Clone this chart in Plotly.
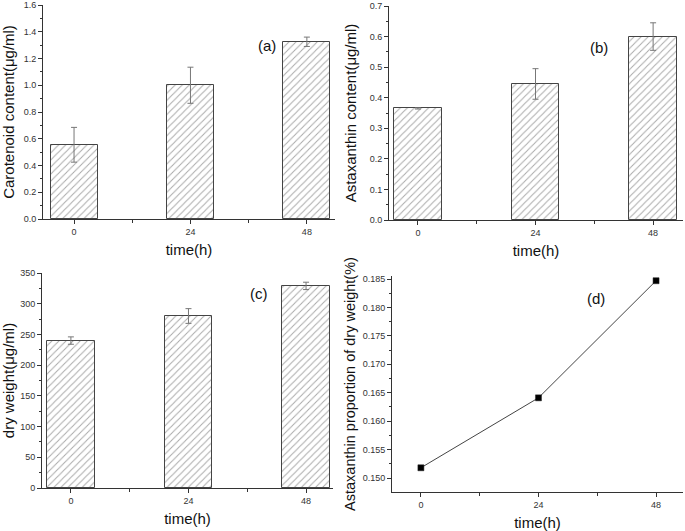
import plotly.graph_objects as go

# ---- data ----
hours = [0, 24, 48]
tick_labels = ["0", "24", "48"]

carotenoid = [0.555, 1.0, 1.325]
carotenoid_err = [0.13, 0.135, 0.035]

astaxanthin = [0.365, 0.445, 0.600]
astaxanthin_err = [0.002, 0.05, 0.045]

dry_weight = [240, 280, 329]
dry_weight_err = [6, 12, 6]

proportion = [0.1518, 0.1641, 0.1847]

panel_labels = ["(a)", "(b)", "(c)", "(d)"]

# ---- style ----
FONT = "Liberation Sans, Arial, sans-serif"
AX = "#333333"
W, H = 685, 531

def px_x(v):
    return v / W

def px_y(v):
    return 1 - v / H

fig = go.Figure()

def add_bar(y, err, xa, ya):
    fig.add_trace(go.Bar(
        x=hours, y=y, width=9.7, xaxis=xa, yaxis=ya,
        marker=dict(color="white",
                    line=dict(color="#444444", width=1),
                    pattern=dict(shape="/", fgcolor="#555555", bgcolor="white",
                                 size=5, solidity=0.2)),
        error_y=dict(type="data", array=err, visible=True, color="#777777",
                     thickness=1, width=3),
        showlegend=False))

add_bar(carotenoid, carotenoid_err, "x", "y")
add_bar(astaxanthin, astaxanthin_err, "x2", "y2")
add_bar(dry_weight, dry_weight_err, "x3", "y3")

fig.add_trace(go.Scatter(
    x=hours, y=proportion, xaxis="x4", yaxis="y4", mode="lines+markers",
    line=dict(color="#444444", width=1),
    marker=dict(symbol="square", size=6, color="black",
                line=dict(color="#222222", width=0.5)),
    showlegend=False))

def xaxis(left, right, anchor, xr):
    return dict(domain=[px_x(left), px_x(right)], anchor=anchor, range=xr,
                automargin=False,
                tickvals=hours, ticktext=tick_labels, ticks="outside", ticklen=4,
                tickcolor=AX, showline=True, linecolor=AX, linewidth=1,
                showgrid=False, zeroline=False,
                minor=dict(ticks="outside", ticklen=3, tickcolor=AX, tick0=0, dtick=12),
                tickfont=dict(family=FONT, size=9, color=AX),
                title=dict(text="time(h)", font=dict(family=FONT, size=15, color="#111111"),
                           standoff=8))

def yaxis(top, bottom, anchor, yr, dtick, title, standoff, tsize=15, fmt=None):
    d = dict(domain=[px_y(bottom), px_y(top)], anchor=anchor, range=yr,
             automargin=False,
             dtick=dtick, ticks="outside", ticklen=4, tickcolor=AX,
             showline=True, linecolor=AX, linewidth=1, showgrid=False,
             zeroline=False,
             minor=dict(ticks="outside", ticklen=2, tickcolor=AX, dtick=dtick / 2),
             tickfont=dict(family=FONT, size=9, color=AX),
             title=dict(text=title, font=dict(family=FONT, size=tsize, color="#111111"),
                        standoff=standoff))
    if fmt:
        d["tickformat"] = fmt
    return d

fig.update_layout(
    width=W, height=H, margin=dict(l=0, r=0, t=0, b=0),
    paper_bgcolor="white", plot_bgcolor="white", bargap=0,
    xaxis=xaxis(43, 335, "y", [-6.4, 53.8]),
    yaxis=yaxis(5, 219, "x", [0, 1.6], 0.2, "Carotenoid content(μg/ml)", 9, fmt=".1f"),
    xaxis2=xaxis(389, 683, "y2", [-5.9, 54.1]),
    yaxis2=yaxis(6, 220, "x2", [0, 0.7], 0.1, "Astaxanthin content(μg/ml)", 9, fmt=".1f"),
    xaxis3=xaxis(42, 333, "y3", [-5.9, 53.5]),
    yaxis3=yaxis(273, 488, "x3", [0, 350], 50, "dry weight(μg/ml)", 1),
    xaxis4=xaxis(392, 683, "y4", [-5.9, 53.5]),
    yaxis4=yaxis(276, 492, "x4", [0.14754, 0.18553], 0.005,
                 "Astaxanthin proportion of dry weight(%)", 3, tsize=14.5, fmt=".3f"),
)
fig.update_layout(yaxis4=dict(tick0=0.15))

label_pos = [(267, 35), (610, 37), (259, 293), (607, 298)]
for text, (lx, ly) in zip(panel_labels, label_pos):
    fig.add_annotation(x=px_x(lx), y=px_y(ly), xref="paper", yref="paper",
                       text=text, showarrow=False,
                       font=dict(family=FONT, size=15, color="#111111"))

fig.write_html("out.html", config={"displayModeBar": False},
               post_script="document.body.style.margin='0';document.body.style.overflow='hidden';")
